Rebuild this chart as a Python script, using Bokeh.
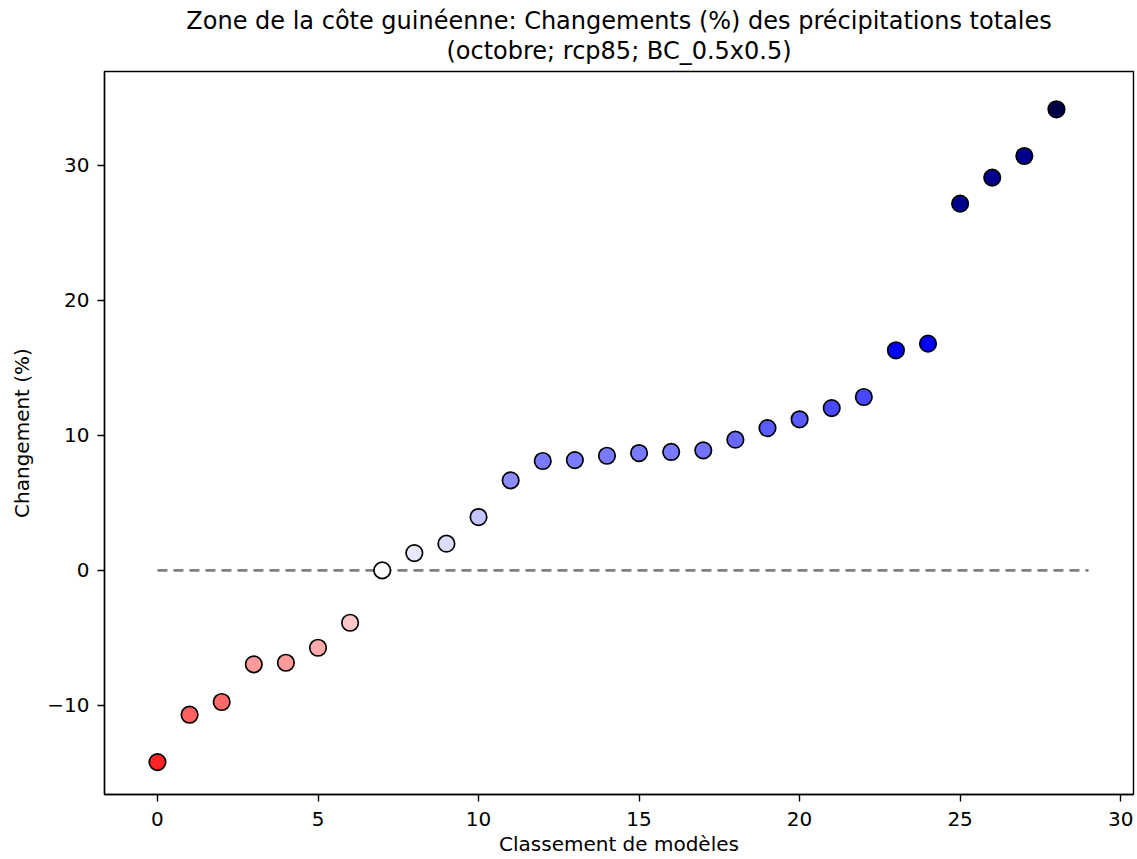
from bokeh.plotting import figure
from bokeh.models import Range1d, FixedTicker, Title, ColumnDataSource
from bokeh.embed import file_html
from bokeh.resources import INLINE

# ---- data ----
rank = list(range(29))
change = [-14.2, -10.69, -9.75, -6.96, -6.84, -5.73, -3.88, 0.0, 1.28, 1.98,
          3.95, 6.67, 8.10, 8.17, 8.49, 8.69, 8.77, 8.89, 9.68, 10.54,
          11.19, 12.02, 12.84, 16.30, 16.79, 27.16, 29.09, 30.69, 34.15]
point_colors = ["#ff2222", "#ff6060", "#ff6a6a", "#ff9a9a", "#ff9a9a", "#ffaaaa",
                "#ffc8c8", "#ffffff", "#e8e8ff", "#dcdcff", "#c6c6ff", "#8c8cff",
                "#7a7aff", "#7a7aff", "#7a7aff", "#7a7aff", "#7a7aff", "#7272ff",
                "#6868ff", "#5a5aff", "#5a5aff", "#4848ff", "#4848ff", "#0000ff",
                "#0000ff", "#00008c", "#00008c", "#00008c", "#000048"]
ref_x = [0, 29]
ref_y = [0, 0]
xticks = [0, 5, 10, 15, 20, 25, 30]
yticks = [-10, 0, 10, 20, 30]
title_line1 = "Zone de la côte guinéenne: Changements (%) des précipitations totales"
title_line2 = "(octobre; rcp85; BC_0.5x0.5)"
xlabel = "Classement de modèles"
ylabel = "Changement (%)"

FONT = "DejaVu Sans"

p = figure(width=1136, height=858, output_backend="svg", toolbar_location=None,
           x_range=Range1d(-1.65, 30.4), y_range=Range1d(-16.6, 36.95),
           min_border_left=104, min_border_right=3, min_border_top=71,
           min_border_bottom=62, title=None)

# titles (first added is closest to plot)
t2 = Title(text=title_line2, align="center", text_font=FONT, text_font_size="24px",
           text_font_style="normal", text_color="black", standoff=14)
t1 = Title(text=title_line1, align="center", text_font=FONT, text_font_size="24px",
           text_font_style="normal", text_color="black", standoff=-14)
spacer = Title(text=" ", align="center", text_font=FONT, text_font_size="2px",
               text_color="white", standoff=3)
p.add_layout(t2, "above")
p.add_layout(t1, "above")
p.add_layout(spacer, "above")

p.outline_line_color = "black"
p.outline_line_width = 1.4
p.xgrid.visible = False
p.ygrid.visible = False

src = ColumnDataSource(dict(x=rank, y=change, c=point_colors))

p.line(ref_x, ref_y, line_color="#808080", line_width=2.7, line_dash="10 6")
p.scatter("x", "y", source=src, size=16.5, fill_color="c", line_color="black",
          line_width=1.7)

for ax in (p.xaxis[0], p.yaxis[0]):
    ax.axis_line_color = "black"
    ax.axis_line_width = 1.4
    ax.major_tick_line_color = "black"
    ax.major_tick_line_width = 1.4
    ax.major_tick_out = 7
    ax.major_tick_in = 0
    ax.minor_tick_line_color = None
    ax.major_label_text_font = FONT
    ax.major_label_text_font_size = "20px"
    ax.major_label_text_color = "black"
    ax.axis_label_text_font = FONT
    ax.axis_label_text_font_size = "20px"
    ax.axis_label_text_font_style = "normal"
    ax.axis_label_text_color = "black"

p.xaxis.ticker = FixedTicker(ticks=xticks)
p.yaxis.ticker = FixedTicker(ticks=yticks)
p.yaxis.major_label_overrides = {t: (str(t).replace("-", "\u2212")) for t in yticks}
p.xaxis.axis_label = xlabel
p.yaxis.axis_label = ylabel
p.xaxis.major_label_standoff = 10
p.yaxis.major_label_standoff = 8
p.xaxis.axis_label_standoff = 3
p.yaxis.axis_label_standoff = 10

open("out.html", "w").write(file_html(p, INLINE))
